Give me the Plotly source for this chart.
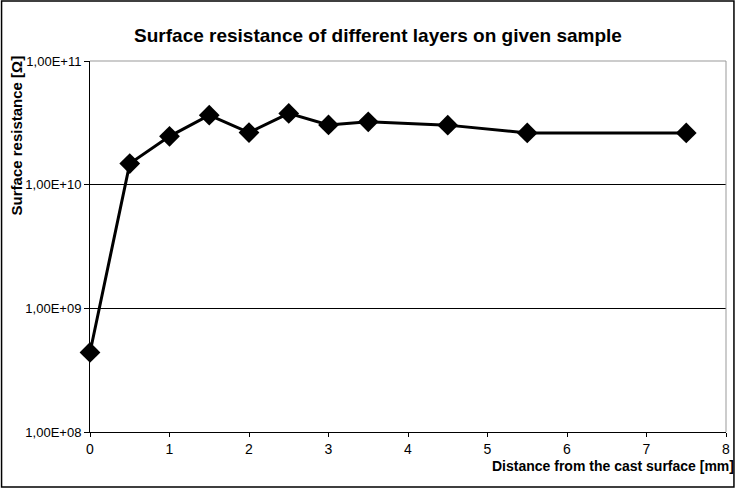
import plotly.graph_objects as go

distance_mm = [0, 0.5, 1, 1.5, 2, 2.5, 3, 3.5, 4.5, 5.5, 7.5]
resistance_ohm = [4.4e8, 1.48e10, 2.46e10, 3.65e10, 2.64e10, 3.77e10, 3.04e10, 3.22e10, 3.03e10, 2.62e10, 2.62e10]
y_tick_vals = [1e8, 1e9, 1e10, 1e11]
y_tick_text = ["1,00E+08", "1,00E+09", "1,00E+10", "1,00E+11"]
x_tick_vals = [0, 1, 2, 3, 4, 5, 6, 7, 8]

W, H = 739, 488
ML, MR, MT, MB = 90, 9, 61, 56
PW = W - ML - MR
PH = H - MT - MB

fig = go.Figure()
fig.add_trace(go.Scatter(
    x=distance_mm, y=resistance_ohm, mode="lines+markers",
    line=dict(color="black", width=3),
    marker=dict(symbol="diamond", size=16, color="black"),
    showlegend=False, cliponaxis=False,
))

font_family = "Liberation Sans, Arial, sans-serif"
fig.update_layout(
    width=W, height=H,
    margin=dict(l=ML, r=MR, t=MT, b=MB),
    paper_bgcolor="white", plot_bgcolor="white",
    font=dict(family=font_family, size=14, color="black"),
    title=dict(text="<b>Surface resistance of different layers on given sample</b>",
               x=378 / W, xanchor="center", xref="container",
               y=1 - 35 / H, yanchor="middle", yref="container",
               font=dict(size=19, family=font_family, color="black")),
    xaxis=dict(range=[0, 8], tickvals=x_tick_vals, ticks="outside", ticklen=4,
               tickcolor="black", showline=True, linecolor="black", linewidth=1,
               showgrid=False, zeroline=False, mirror=False,
               tickfont=dict(size=14), ticklabelstandoff=0),
    yaxis=dict(type="log", range=[8, 11], tickvals=y_tick_vals, ticktext=y_tick_text,
               ticks="outside", ticklen=5, tickcolor="black",
               showline=True, linecolor="black", linewidth=1,
               showgrid=True, gridcolor="black", gridwidth=1, zeroline=False,
               tickfont=dict(size=13), ticklabelstandoff=0),
    shapes=[
        # light-grey top and right plot border
        dict(type="line", xref="paper", yref="paper", x0=0, x1=1, y0=1, y1=1,
             line=dict(color="#999999", width=1)),
        dict(type="line", xref="paper", yref="paper", x0=1, x1=1, y0=0, y1=1,
             line=dict(color="#999999", width=1)),
        # outer chart frame
        dict(type="rect", xref="paper", yref="paper",
             x0=(1 - ML) / PW, x1=(W - 1 - ML) / PW,
             y0=-(H - 1 - MT - PH) / PH, y1=1 + (MT - 1) / PH,
             line=dict(color="black", width=1.5), fillcolor="rgba(0,0,0,0)", layer="below"),
    ],
    annotations=[
        dict(text="<b>Distance from the cast surface [mm]</b>", xref="paper", yref="paper",
             x=(740 - ML) / PW, y=-(466 - MT - PH) / PH, xanchor="right", yanchor="middle",
             showarrow=False, font=dict(size=14, family=font_family)),
        dict(text="<b>Surface resistance [Ω]</b>", xref="paper", yref="paper",
             x=(16 - ML) / PW, y=1 - (135 - MT) / PH, xanchor="center", yanchor="middle",
             textangle=-90, showarrow=False, font=dict(size=15, family=font_family)),
    ],
)

fig.write_html("out.html", config={"displayModeBar": False},
               post_script="document.body.style.margin='0';")
